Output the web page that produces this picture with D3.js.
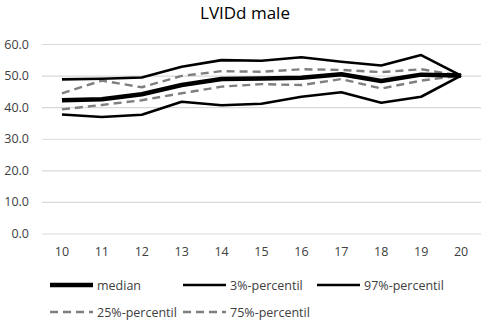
<!DOCTYPE html>
<html><head><meta charset="utf-8">
<script src="https://cdn.jsdelivr.net/npm/d3@7"></script>
<style>body{margin:0;background:#fff}svg{display:block}text{font-family:"Open Sans","Noto Sans",sans-serif;fill:#404040}</style>
</head><body><div id="chart"></div>
<script>
const ages = [10,11,12,13,14,15,16,17,18,19,20];
const yTicks = [0,10,20,30,40,50,60];
const median = [42.2,42.5,44.1,47.0,48.9,49.1,49.3,50.4,48.3,50.3,50.0];
const p3 = [37.7,36.9,37.6,41.7,40.6,41.1,43.3,44.7,41.4,43.3,50.0];
const p97 = [48.8,49.0,49.4,52.8,54.9,54.7,55.8,54.4,53.2,56.5,50.0];
const p25 = [39.3,40.7,42.2,44.4,46.5,47.3,47.0,48.9,45.9,48.4,50.0];
const p75 = [44.4,48.4,46.3,49.9,51.4,51.2,52.0,51.8,51.1,52.0,50.0];
const seriesNames = ["median","3%-percentil","97%-percentil","25%-percentil","75%-percentil"];

const W=486,H=322;
const svg=d3.select("#chart").append("svg").attr("width",W).attr("height",H);
const x=d3.scaleBand().domain(ages).range([42,481]);
const y=d3.scaleLinear().domain([0,60]).range([233.5,44]);

svg.append("text").attr("x",245).attr("y",19).attr("text-anchor","middle")
  .style("font-size","17px").style("fill","#000").text("LVIDd male");

const gy=svg.append("g").attr("transform","translate(42,0)")
  .call(d3.axisLeft(y).tickValues(yTicks).tickFormat(d3.format(".1f")).tickSize(-439).tickPadding(13));
gy.select(".domain").remove();
gy.selectAll("line").attr("stroke","#d9d9d9").attr("stroke-width",1.2);
gy.selectAll("text").style("font-size","12.5px").style("fill","#404040").attr("font-family",null);

const gx=svg.append("g").attr("transform","translate(0,233.5)")
  .call(d3.axisBottom(x).tickSize(0).tickPadding(14));
gx.select(".domain").remove();
gx.selectAll("text").style("font-size","12.5px").style("fill","#404040").attr("font-family",null);

const styles=[
  {data:median,w:4.5,c:"#000",dash:null},
  {data:p3,w:2.6,c:"#000",dash:null},
  {data:p97,w:2.6,c:"#000",dash:null},
  {data:p25,w:2.4,c:"#7f7f7f",dash:"8,5"},
  {data:p75,w:2.4,c:"#7f7f7f",dash:"8,5"}
];
const line=d3.line().x((d,i)=>x(ages[i])+x.bandwidth()/2).y(d=>y(d));
[3,4,1,2,0].forEach(k=>{
  const s=styles[k];
  svg.append("path").datum(s.data).attr("d",line).attr("fill","none")
    .attr("stroke",s.c).attr("stroke-width",s.w).attr("stroke-dasharray",s.dash)
    .attr("stroke-linejoin","round");
});

const legPos=[[50,285],[183,285],[317,285],[50,312],[183,312]];
seriesNames.forEach((n,k)=>{
  const s=styles[k],[lx,ly]=legPos[k];
  svg.append("line").attr("x1",lx).attr("x2",lx+43).attr("y1",ly).attr("y2",ly)
    .attr("stroke",s.c).attr("stroke-width",s.w).attr("stroke-dasharray",s.dash);
  svg.append("text").attr("x",lx+47).attr("y",ly+4.5).style("font-size","12.5px").text(n);
});
</script></body></html>
